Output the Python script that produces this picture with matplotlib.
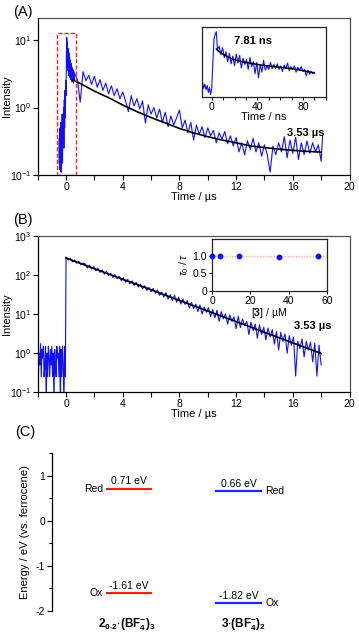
import matplotlib
matplotlib.use("Agg")
import matplotlib.pyplot as plt
from matplotlib.ticker import MultipleLocator, FixedLocator, NullLocator, LogLocator
from matplotlib.patches import Rectangle

plt.rcParams['font.family'] = ['Liberation Sans', 'DejaVu Sans']
plt.rcParams['mathtext.fontset'] = 'custom'
plt.rcParams['mathtext.rm'] = 'Liberation Sans'
plt.rcParams['mathtext.it'] = 'Liberation Sans:italic'
plt.rcParams['mathtext.bf'] = 'Liberation Sans:bold'
plt.rcParams['axes.unicode_minus'] = False

# ---------------- data: panel A ----------------
a_time = [-0.5, -0.475, -0.45, -0.425, -0.4, -0.375, -0.35, -0.325, -0.3, -0.275, -0.25, -0.225,
          -0.2, -0.175, -0.15, -0.125, -0.1, -0.075, -0.05, -0.025, 0.0, 0.025, 0.05, 0.075, 0.1,
          0.125, 0.15, 0.175, 0.2, 0.225, 0.25, 0.275, 0.3, 0.325, 0.35, 0.375, 0.4, 0.425, 0.45,
          0.475, 0.5, 0.525, 0.55, 0.575, 0.6,
          0.8, 1.0, 1.2, 1.4, 1.6, 1.8, 2.0, 2.2, 2.4, 2.6, 2.8, 3.0, 3.2, 3.4, 3.6, 3.8, 4.0, 4.2,
          4.4, 4.6, 4.8, 5.0, 5.2, 5.4, 5.6, 5.8, 6.0, 6.2, 6.4, 6.6, 6.8, 7.0, 7.2, 7.4, 7.6, 7.8,
          8.0, 8.2, 8.4, 8.6, 8.8, 9.0, 9.2, 9.4, 9.6, 9.8, 10.0, 10.2, 10.4, 10.6, 10.8, 11.0, 11.2,
          11.4, 11.6, 11.8, 12.0, 12.2, 12.4, 12.6, 12.8, 13.0, 13.2, 13.4, 13.6, 13.8, 14.0, 14.2,
          14.4, 14.6, 14.8, 15.0, 15.2, 15.4, 15.6, 15.8, 16.0, 16.2, 16.4, 16.6, 16.8, 17.0, 17.2,
          17.4, 17.6, 17.8, 18.0, 18.1]
a_intensity = [0.15, 0.35, 0.12, 0.5, 0.18, 0.6, 0.11, 0.45, 0.2, 0.8, 0.15, 0.7,
               0.3, 1.0, 0.25, 1.3, 0.5, 1.8, 0.7, 2.5, 1.5, 6.0, 11.0, 4.0, 9.5,
               3.5, 7.5, 3.0, 6.5, 3.2, 5.5, 2.8, 5.0, 2.6, 4.5, 2.7, 4.0, 2.4, 3.8,
               2.5, 3.6, 2.3, 3.4, 2.6, 3.2,
               2.6, 1.2, 3.4, 2.5, 3.0, 2.2, 2.9, 2.0, 2.6, 1.8, 2.3, 1.6, 2.1, 1.5, 1.9, 1.35, 1.7, 1.25,
               0.87, 1.5, 1.05, 1.35, 0.95, 1.25, 0.59, 1.1, 0.8, 1.0, 0.7, 0.95, 0.6, 0.85, 0.52, 0.75, 0.55, 0.7,
               0.92, 0.5, 0.65, 0.42, 0.6, 0.33, 0.55, 0.4, 0.52, 0.36, 0.5, 0.38, 0.46, 0.3, 0.42, 0.34, 0.44,
               0.29, 0.38, 0.27, 0.36, 0.22, 0.3, 0.2, 0.32, 0.24, 0.35, 0.22, 0.3, 0.19, 0.28, 0.2,
               0.11, 0.27, 0.2, 0.3, 0.22, 0.37, 0.18, 0.33, 0.21, 0.36, 0.17, 0.3, 0.2, 0.32, 0.21,
               0.3, 0.22, 0.28, 0.16, 0.38]
a_fit_time = [0.5, 1, 2, 3, 4, 5, 6, 7, 8, 9, 10, 11, 12, 13, 14, 15, 16, 17, 18]
a_fit = [2.55, 2.27, 1.75, 1.40, 1.09, 0.87, 0.71, 0.59, 0.49, 0.42, 0.37, 0.33, 0.30, 0.27,
         0.255, 0.242, 0.232, 0.224, 0.218]
a_box_t = (-0.64, 0.71)
a_box_y = (0.1, 12.7)
a_label = "3.53 µs"

# inset A (ns, arbitrary units)
ia_time = [-9, -8, -7, -6, -5, -4, -3, -2, -1, 0, 1, 2, 3, 4, 5, 6.5, 8, 9.5, 11, 12.5, 14, 15.5, 17,
           18.5, 20, 21.5, 23, 24.5, 26, 27.5, 29, 30.5, 32, 33.5, 35, 36.5, 38, 39.5, 41, 42.5, 44,
           45.5, 47, 48.5, 50, 51.5, 53, 54.5, 56, 57.5, 59, 60.5, 62, 63.5, 65, 66.5, 68, 69.5, 71,
           72.5, 74, 75.5, 77, 78.5, 80, 81.5, 83, 84.5, 86, 87.5, 89, 90]
ia_signal = [1.5, 2.0, 1.2, 1.8, 1.0, 1.6, 0.6, 1.3, 0.3, 1.2, 5.0, 8.3, 8.9, 9.3, 6.7, 7.2, 6.0, 7.0,
             5.6, 6.4, 5.0, 6.2, 4.7, 5.8, 4.4, 6.1, 4.8, 5.9, 4.1, 5.5, 4.6, 5.3, 3.9, 5.6, 4.3, 5.0,
             3.3, 4.9, 2.7, 4.6, 3.5, 5.2, 3.8, 4.4, 3.9, 4.9, 4.0, 4.6, 4.0, 4.7, 3.9, 4.4, 3.6, 4.5,
             4.0, 4.8, 3.7, 4.3, 3.9, 4.4, 3.5, 4.2, 3.8, 4.3, 3.6, 3.9, 3.0, 3.8, 3.2, 3.6, 3.3, 3.5]
ia_fit_time = [4, 6, 8, 10, 14, 18, 22, 28, 35, 44, 52, 60, 68, 76, 84, 90]
ia_fit = [6.8, 6.5, 6.25, 6.05, 5.7, 5.4, 5.2, 4.95, 4.75, 4.5, 4.35, 4.2, 4.05, 3.85, 3.6, 3.4]
ia_label = "7.81 ns"

# ---------------- data: panel B ----------------
b_base_time = [-2.0, -1.95, -1.9, -1.85, -1.8, -1.75, -1.7, -1.65, -1.6, -1.55, -1.5, -1.45, -1.4,
               -1.35, -1.3, -1.25, -1.2, -1.15, -1.1, -1.05, -1.0, -0.95, -0.9, -0.85, -0.8, -0.75,
               -0.7, -0.65, -0.6, -0.55, -0.5, -0.45, -0.4, -0.35, -0.3, -0.25, -0.2, -0.15, -0.1, -0.05]
b_base = [1.5, 0.25, 1.0, 0.5, 1.75, 0.25, 1.25, 0.75, 1.5, 0.25, 0.5, 1.5, 0.05, 1.0, 0.25, 1.5,
          0.75, 0.25, 1.25, 0.5, 1.5, 0.25, 1.0, 0.05, 1.25, 0.5, 0.25, 1.5, 0.75, 1.0, 0.25, 1.5,
          0.05, 1.25, 0.25, 1.5, 0.5, 0.05, 1.5, 0.25]
b_decay_time = [0.0, 0.15, 0.3, 0.45, 0.6, 0.75, 0.9, 1.05, 1.2, 1.35, 1.5, 1.65, 1.8, 1.95, 2.1,
                2.25, 2.4, 2.55, 2.7, 2.85, 3.0, 3.15, 3.3, 3.45, 3.6, 3.75, 3.9, 4.05, 4.2, 4.35,
                4.5, 4.65, 4.8, 4.95, 5.1, 5.25, 5.4, 5.55, 5.7, 5.85, 6.0, 6.15, 6.3, 6.45, 6.6,
                6.75, 6.9, 7.05, 7.2, 7.35, 7.5, 7.65, 7.8, 7.95, 8.1, 8.25, 8.4, 8.55, 8.7, 8.85,
                9.0, 9.15, 9.3, 9.45, 9.6, 9.75, 9.9, 10.05, 10.2, 10.35, 10.5, 10.65, 10.8, 10.95,
                11.1, 11.25, 11.4, 11.55, 11.7, 11.85, 12.0, 12.15, 12.3, 12.45, 12.6, 12.75, 12.9,
                13.05, 13.2, 13.35, 13.5, 13.65, 13.8, 13.95, 14.1, 14.25, 14.4, 14.55, 14.7, 14.85,
                15.0, 15.15, 15.3, 15.45, 15.6, 15.75, 15.9, 16.05, 16.2, 16.35, 16.5, 16.65, 16.8,
                16.95, 17.1, 17.25, 17.4, 17.55, 17.7, 17.85, 18.0]
b_decay = [285, 240, 265, 215, 240, 198, 222, 180, 200, 190, 150, 178, 140, 162, 128, 146, 116, 134,
           104, 122, 96, 110, 86, 101, 80, 92, 71, 84, 65, 77, 59, 70, 54, 64, 49, 58, 44, 53, 40, 48,
           37, 45, 34, 41, 30, 36, 27, 35, 24, 31, 22, 30, 20, 27, 18, 24, 17.5, 22, 14, 20, 13.5, 18,
           11.5, 17, 10, 15, 11, 14.5, 8.5, 13, 8.0, 12.5, 6.5, 11.5, 7.5, 10, 5.5, 9.5, 6.5, 8.5,
           4.2, 8.8, 4.5, 7.5, 5.0, 6.5, 3.0, 6.2, 3.8, 5.5, 2.4, 5.3, 3.0, 4.6, 2.2, 4.4, 2.6, 4.0,
           1.7, 3.6, 1.2, 3.4, 2.0, 3.1, 1.0, 2.8, 1.6, 2.6, 0.26, 2.0, 1.3, 2.3, 0.8, 2.0, 1.2, 1.9,
           0.6, 1.8, 0.26, 1.6, 0.5]
b_fit_time = [0, 1, 2, 3, 4, 5, 6, 7, 8, 9, 10, 11, 12, 13, 14, 15, 16, 17, 18]
b_fit = [269, 197, 144, 105, 77, 57, 41.5, 30.4, 22.2, 16.3, 11.9, 8.7, 6.4, 4.7, 3.4, 2.5, 1.83,
         1.34, 0.98]
b_label = "3.53 µs"

# inset B (Stern-Volmer)
ib_conc = [0, 4, 14, 35, 55.5]
ib_ratio = [1.01, 1.0, 1.01, 0.98, 1.01]
ib_ref = 1.0

# ---------------- data: panel C ----------------
c_compounds = [r"$\mathbf{2}_{\mathbf{0\text{-}2}}{\cdot}\mathbf{(BF}_{\mathbf{4}}^{\mathbf{-}}\mathbf{)}_{\mathbf{3}}$",
               r"$\mathbf{3}{\cdot}\mathbf{(BF}_{\mathbf{4}}^{\mathbf{-}}\mathbf{)}_{\mathbf{2}}$"]
c_red = [0.71, 0.66]
c_ox = [-1.61, -1.82]
c_colors = ['#ff1a1a', '#1a2bff']

# ---------------- figure ----------------
W, H = 359, 635
fig = plt.figure(figsize=(W / 100, H / 100), dpi=100)


def px_axes(l, t, r, b):
    return fig.add_axes([l / W, 1 - b / H, (r - l) / W, (b - t) / H])


BLUE = '#1010ff'
TFS = 7.5
LFS = 8


def style_main(ax, left, right):
    for s in ['left', 'bottom']:
        ax.spines[s].set_color('black')
    for s in ['top', 'right']:
        ax.spines[s].set_color('#555555')
    for s in ax.spines.values():
        s.set_linewidth(0.9)
    ax.set_xlim(-2, 20)
    ax.xaxis.set_major_locator(MultipleLocator(4))
    ax.xaxis.set_minor_locator(MultipleLocator(2))
    ax.yaxis.set_minor_locator(NullLocator())
    ax.tick_params(which='both', direction='out', length=3.5, width=0.8, labelsize=TFS, pad=1.2,
                   top=False, right=False)
    ax.set_xlabel("Time / µs", fontsize=LFS, labelpad=0)
    ax.set_ylabel("Intensity", fontsize=LFS)
    ax.yaxis.set_label_coords((12.5 - left) / (right - left), 0.5)


# Panel A
A_L, A_R = 37.7, 349.5
axA = px_axes(A_L, 18.3, A_R, 175)
axA.set_yscale('log')
axA.set_ylim(0.1, 21)
axA.yaxis.set_major_locator(LogLocator(base=10, numticks=10))
axA.plot(a_time, a_intensity, color=BLUE, lw=0.8)
axA.plot(a_fit_time, a_fit, color='black', lw=1.2)
axA.add_patch(Rectangle((a_box_t[0], a_box_y[0]), a_box_t[1] - a_box_t[0], a_box_y[1] - a_box_y[0],
                        fill=False, edgecolor='#ff2020', ls=(0, (3, 1.5)), lw=1.0, zorder=5))
style_main(axA, A_L, A_R)
axA.text(16.9, 0.42, a_label, fontsize=8, fontweight='bold', ha='center', va='center')
fig.text(13 / W, 1 - 12 / H, "(A)", fontsize=10.5, ha='left', va='center')

# inset A
axIA = px_axes(201.5, 26.7, 325.7, 96.7)
axIA.plot(ia_time, ia_signal, color=BLUE, lw=0.8)
axIA.plot(ia_fit_time, ia_fit, color='black', lw=1.1)
axIA.set_xlim(-9, 100)
axIA.set_ylim(0, 10)
axIA.xaxis.set_major_locator(MultipleLocator(40))
axIA.xaxis.set_minor_locator(MultipleLocator(10))
axIA.yaxis.set_major_locator(NullLocator())
axIA.tick_params(which='both', direction='out', length=2.5, width=0.7, labelsize=TFS, pad=1)
for s in axIA.spines.values():
    s.set_linewidth(0.9)
    s.set_color('#222222')
axIA.set_xlabel("Time / ns", fontsize=LFS, labelpad=0)
axIA.text(36, 7.9, ia_label, fontsize=8, fontweight='bold', ha='center', va='center')

# Panel B
axB = px_axes(A_L, 235.7, A_R, 392.3)
axB.set_yscale('log')
axB.set_ylim(0.1, 1000)
axB.yaxis.set_major_locator(LogLocator(base=10, numticks=10))
axB.plot(b_base_time + b_decay_time, b_base + b_decay, color=BLUE, lw=0.8)
axB.plot(b_fit_time, b_fit, color='black', lw=1.2)
style_main(axB, A_L, A_R)
axB.text(17.4, 4.8, b_label, fontsize=8, fontweight='bold', ha='center', va='center')
fig.text(13 / W, 1 - 220 / H, "(B)", fontsize=10.5, ha='left', va='center')

# inset B
axIB = px_axes(212, 238.5, 327, 290.7)
axIB.axhline(ib_ref, color='#ffb0b0', lw=1.0, ls=(0, (1, 1)), zorder=1)
axIB.plot(ib_conc, ib_ratio, 'o', color=BLUE, ms=3.2, zorder=3, clip_on=False)
axIB.set_xlim(0, 60)
axIB.set_ylim(0, 1.5)
axIB.xaxis.set_major_locator(MultipleLocator(20))
axIB.yaxis.set_major_locator(FixedLocator([0, 0.5, 1.0]))
axIB.set_yticklabels(["0", "0.5", "1.0"])
axIB.tick_params(which='both', direction='out', length=2.5, width=0.7, labelsize=TFS, pad=1)
for s in axIB.spines.values():
    s.set_linewidth(0.9)
    s.set_color('#222222')
axIB.set_xlabel(r"[$\mathbf{3}$] / µM", fontsize=7.5, labelpad=0)
axIB.set_ylabel(r"$\tau_0$ / $\tau$", fontsize=7.5, labelpad=1)

# Panel C
axC = px_axes(52, 453, 359, 611)
axC.set_xlim(52, 359)
axC.set_ylim(-2, 1.5)
for s in ['top', 'right', 'bottom']:
    axC.spines[s].set_visible(False)
axC.spines['left'].set_linewidth(0.9)
axC.xaxis.set_major_locator(NullLocator())
axC.yaxis.set_major_locator(MultipleLocator(1))
axC.yaxis.set_minor_locator(MultipleLocator(0.5))
axC.tick_params(axis='y', which='major', direction='out', length=3.5, width=0.8, labelsize=TFS, pad=1.5)
axC.tick_params(axis='y', which='minor', direction='out', length=2.2, width=0.8)
axC.set_ylabel("Energy / eV (vs. ferrocene)", fontsize=LFS)
axC.yaxis.set_label_coords((30 - 52) / (359 - 52), 0.5)
fig.text(15 / W, 1 - 432 / H, "(C)", fontsize=10.5, ha='left', va='center')

line_x = [(106, 152), (215, 262)]
for i in range(2):
    x0, x1 = line_x[i]
    xc = (x0 + x1) / 2
    for val in (c_red[i], c_ox[i]):
        axC.plot([x0, x1], [val, val], color=c_colors[i], lw=1.6, solid_capstyle='butt')
        axC.text(xc, val + 0.05, f"{val:.2f} eV", fontsize=TFS, ha='center', va='bottom')
    if i == 0:
        axC.text(x0 - 3, c_red[i], "Red", fontsize=TFS, ha='right', va='center')
        axC.text(x0 - 3, c_ox[i], "Ox", fontsize=TFS, ha='right', va='center')
    else:
        axC.text(x1 + 3, c_red[i], "Red", fontsize=TFS, ha='left', va='center')
        axC.text(x1 + 3, c_ox[i], "Ox", fontsize=TFS, ha='left', va='center')
    axC.text([127, 243][i], -2.31, c_compounds[i], fontsize=8.5, ha='center', va='center', clip_on=False)

fig.savefig("out.png", dpi=100)
